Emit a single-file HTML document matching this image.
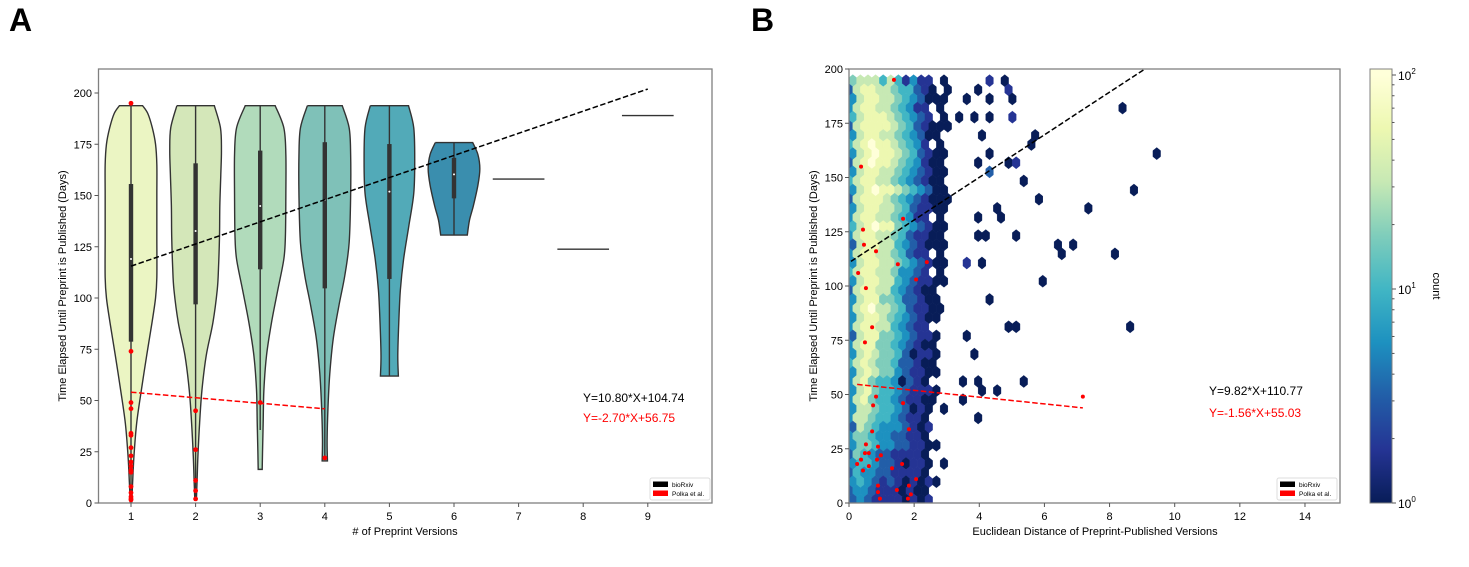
<!DOCTYPE html>
<html><head><meta charset="utf-8"><style>
html,body{margin:0;padding:0;background:#fff;}
svg{display:block;font-family:"Liberation Sans",Arial,sans-serif;}
</style></head><body>
<svg id="fig" width="1469" height="567" viewBox="0 0 1469 567" xmlns="http://www.w3.org/2000/svg">
<defs>
<clipPath id="clipR"><rect x="849" y="69" width="491" height="434"/></clipPath>
<linearGradient id="cbGrad" x1="0" y1="1" x2="0" y2="0">
<stop offset="0" stop-color="#081d58"/><stop offset="0.123" stop-color="#253494"/><stop offset="0.246" stop-color="#225ea8"/><stop offset="0.37" stop-color="#1d91c0"/><stop offset="0.493" stop-color="#41b6c4"/><stop offset="0.616" stop-color="#7fcdbb"/><stop offset="0.74" stop-color="#c7e9b4"/><stop offset="0.863" stop-color="#edf8b1"/><stop offset="0.986" stop-color="#ffffd9"/><stop offset="1" stop-color="#ffffd9"/>
</linearGradient>
</defs>
<text x="9" y="31" font-size="32" font-weight="bold">A</text>
<text x="751" y="31" font-size="32" font-weight="bold">B</text>
<g id="left"></g>
<g id="right"></g>
<g id="cbar"></g>
</svg>
<script>
// ---------- Panel A data ----------
const violinCats=[1,2,3,4,5,6];
const violinY=[
 [193.8,190,183,175,165,150,130,110,100,88,72,55,39,23,10,0.6],
 [193.8,183,172,160,145,130,115,104,88,72,55,39,23,10,1.5],
 [193.8,183,170,150,130,119,104,88,72,55,39,25,16.4],
 [193.8,183,170,150,127,111,96,80,63,47,31,20.5],
 [193.8,183,167,151,135,119,104,88,72,61.9],
 [175.8,170,163,155,145,138,130.7]];
const violinHW=[
 [0.18,0.26,0.33,0.38,0.40,0.40,0.40,0.40,0.38,0.325,0.243,0.16,0.088,0.046,0.025,0.012],
 [0.29,0.385,0.40,0.39,0.375,0.37,0.355,0.335,0.268,0.165,0.098,0.062,0.036,0.022,0.012],
 [0.232,0.366,0.397,0.397,0.39,0.366,0.273,0.175,0.098,0.057,0.046,0.036,0.031],
 [0.27,0.377,0.40,0.40,0.377,0.31,0.217,0.13,0.077,0.05,0.036,0.041],
 [0.296,0.377,0.392,0.377,0.30,0.22,0.17,0.145,0.13,0.139],
 [0.29,0.37,0.40,0.37,0.30,0.24,0.206]];
const violinColors=["#ebf5c3","#d4e7b9","#b1dbbb","#7fc1b8","#52aab8","#3a8eae"];
const boxQ1=[78.7,96.9,114,104.7,109.3,148.6];
const boxQ3=[155.6,165.7,171.9,176,175.1,168.4];
const boxMedian=[119,132.7,144.9,147.8,151.9,160.3];
const whiskLo=[0.6,1.5,35.6,21.9,61.9,130.7];
const whiskHi=[193.8,193.8,193.8,193.8,193.8,175.8];
const singleCats=[7,8,9];
const singleVals=[158,123.8,189];
const polkaCatsL=[1,1,1,1,1,1,1,1,1,1,1,1,1,1,1,1,1,2,2,2,2,2,3,4];
const polkaValsL=[195,74,49,46,34,33,27,23,20,18,16,15,8,5,3,2,1.5,45,26,11,6,2,49,22];
const fitL={black:[10.80,104.74,1,9],red:[-2.70,56.75,1,4]};
const xTicksL=[1,2,3,4,5,6,7,8,9];
const yTicksL=[0,25,50,75,100,125,150,175,200];
// ---------- Panel B data ----------
const hexRows=[
"67775752422.1.","378877655321.1","4788776543111.","47887765422.1.","57888765432.1.",
"37888876532111","478877654311..","57898876542.1.","4789887653211.","3789887654211.",
"4788776543211.","5788776543211.","4789887654311.","37888765432111","4788776532211.",
"47887765422.1.","5789886543211.","4788776532211.","3788775432111.","47887765322.1.",
"4788776543211.","57887764432.1.","4788775432211.","378877543211..","478866533211..",
"4789776532211.","478876543211..","47887754322...","378866543221..","478866543211..",
"478766531221..","578766533211..","478766432211..","47865541321...","478655432221..",
"478655432211..","47765543121.1.","47765543221...","37654443212...","46654433221...",
"466544332211..","36543322221...","45543321221.1.","35443322221...","454323212121..",
"34432221211...","34322221212..."];
const outX=[3.90,4.24,4.70,4.82,3.56,4.24,4.94,3.32,3.78,4.24,4.94,4.02,5.65,5.53,8.29,9.36,4.27,3.90,4.82,5.07,4.24,5.28,5.77,8.66,7.28,4.48,4.61,3.90,3.90,4.14,5.07,6.32,6.79,6.45,8.07,4.02,3.56,5.86,4.24,4.82,5.07,8.54,3.56,3.78,5.28,4.48,4.02,3.90,3.44,3.44,3.90];
const outY=[190,194,194,190,186,186,186,177,177,177,177,169,169,165,182,160,160,156,156,156,152,148,139,143,135,135,131,131,123,123,123,118,118,114,114,110,110,101,93,81,81,81,76,68,55,51,51,55,55,47,39];
const outLvl=[1,2,1,2,1,1,1,1,1,1,2,1,1,1,1,1,1,1,1,2,3,1,1,1,1,1,1,1,1,1,1,1,1,1,1,1,2,1,1,1,1,1,1,1,1,1,1,1,1,1,1];
const polkaXR=[1.38,0.37,1.66,0.43,0.46,0.83,1.50,2.39,0.28,2.06,0.52,0.71,0.49,0.83,0.74,1.66,7.18,0.71,1.84,0.52,0.89,0.49,0.61,0.98,0.37,0.25,0.86,0.61,0.43,1.32,1.63,2.06,0.89,1.84,0.89,1.90,1.47,0.95,1.81];
const polkaYR=[195,155,131,126,119,116,110,111,106,103,99,81,74,49,45,46,49,33,34,27,26,23,23,22,20,18,20,17,15,16,18,11,8,8,5,4,6,2,2];
const fitR={black:[9.82,110.77,0.06,9.09],red:[-1.56,55.03,0.25,7.18]};
const xTicksR=[0,2,4,6,8,10,12,14];
const yTicksR=[0,25,50,75,100,125,150,175,200];
const levelColors=["#081d58","#253494","#225ea8","#1d91c0","#41b6c4","#7fcdbb","#c7e9b4","#edf8b1","#ffffd9"];

const NS="http://www.w3.org/2000/svg";
function mk(tag,attrs,parent,text){const e=document.createElementNS(NS,tag);for(const k in attrs)e.setAttribute(k,attrs[k]);if(text!==undefined)e.textContent=text;parent.appendChild(e);return e;}
const xL=v=>131+(v-1)*64.6, yL=v=>503-v*2.05;
const xR=v=>849+v*32.57, yR=v=>503-v*2.17;

function catmull(pts){let d="";for(let i=0;i<pts.length-1;i++){const p0=pts[Math.max(0,i-1)],p1=pts[i],p2=pts[i+1],p3=pts[Math.min(pts.length-1,i+2)];
const c1=[p1[0]+(p2[0]-p0[0])/6,p1[1]+(p2[1]-p0[1])/6],c2=[p2[0]-(p3[0]-p1[0])/6,p2[1]-(p3[1]-p1[1])/6];
d+=` C${c1[0].toFixed(2)},${c1[1].toFixed(2)} ${c2[0].toFixed(2)},${c2[1].toFixed(2)} ${p2[0].toFixed(2)},${p2[1].toFixed(2)}`;}return d;}

// ---------- Panel A ----------
const L=document.getElementById('left');
violinCats.forEach((c,k)=>{
  const ys=violinY[k],hw=violinHW[k];
  const rp=ys.map((y,i)=>[xL(c+hw[i]),yL(y)]);
  const lp=ys.map((y,i)=>[xL(c-hw[i]),yL(y)]).reverse();
  const d=`M${lp[lp.length-1][0]},${lp[lp.length-1][1]} L${rp[0][0]},${rp[0][1]}`+catmull(rp)+` L${lp[0][0]},${lp[0][1]}`+catmull(lp)+" Z";
  const p=mk('path',{d:d,fill:violinColors[k],stroke:"#333",'stroke-width':1.4},L);
  
  
  const w=mk('line',{x1:xL(c),x2:xL(c),y1:yL(whiskHi[k]),y2:yL(whiskLo[k]),stroke:"#333",'stroke-width':1.4},L);
  
  
  const b=mk('rect',{x:xL(c)-2.2,width:4.4,y:yL(boxQ3[k]),height:yL(boxQ1[k])-yL(boxQ3[k]),fill:"#333"},L);
  
  
  const m=mk('circle',{cx:xL(c),cy:yL(boxMedian[k]),r:1,fill:"#fff"},L);
  
  
});
singleCats.forEach((c,k)=>{
  const l=mk('line',{x1:xL(c-0.4),x2:xL(c+0.4),y1:yL(singleVals[k]),y2:yL(singleVals[k]),stroke:"#333",'stroke-width':1.4},L);
  
  
});
polkaCatsL.forEach((c,i)=>{
  const p=mk('circle',{cx:xL(c),cy:yL(polkaValsL[i]),r:2.4,fill:"#ff0000"},L);
  
  
});
function fitLine(g,f,color,sx,sy,name){const[a,b,x0,x1]=f;const l=mk('line',{x1:sx(x0),y1:sy(a*x0+b),x2:sx(x1),y2:sy(a*x1+b),stroke:color,'stroke-width':1.5,'stroke-dasharray':'5.5,2.5'},g);
  
  }
fitLine(L,fitL.black,"#000",xL,yL,'biorxiv-fit-line');
fitLine(L,fitL.red,"#ff0000",xL,yL,'polka-fit-line');
function axes(g,x0,y0,x1,y1,prefix){const r=mk('rect',{x:x0,y:y0,width:x1-x0,height:y1-y0,fill:"none",stroke:"#808080",'stroke-width':1.3},g);
  
  }
axes(L,98.5,69,712,503,'left');
xTicksL.forEach(v=>{mk('line',{x1:xL(v),x2:xL(v),y1:503,y2:507,stroke:"#555"},L);
  const t=mk('text',{x:xL(v),y:520,'font-size':11,'text-anchor':'middle'},L,String(v));
  
  });
yTicksL.forEach(v=>{mk('line',{x1:94.5,x2:98.5,y1:yL(v),y2:yL(v),stroke:"#555"},L);
  const t=mk('text',{x:92,y:yL(v)+4,'font-size':11,'text-anchor':'end'},L,String(v));
  
  });
// ---------- Panel B ----------
const R=document.getElementById('right');
const hexG=mk('g',{'clip-path':'url(#clipR)'},R);
const dxD=0.2333, sxP=dxD*32.57, syP=2*4.2*2.17;
function hexPath(cx,cy){const a=sxP/2,b=syP/6,c=syP/3;return `M${cx+a},${cy-b} L${cx+a},${cy+b} L${cx},${cy+c} L${cx-a},${cy+b} L${cx-a},${cy-b} L${cx},${cy-c} Z`;}
function drawHex(j,i,lvl){const off=(j%2===0)?0.5:0;const xd=(i+off)*dxD,yd=1.4+j*4.2;const col=levelColors[lvl-1];
  const h=mk('path',{d:hexPath(xR(xd),yR(yd)),fill:col,stroke:col,'stroke-width':0.4},hexG);
  
  }
hexRows.forEach((row,ri)=>{const j=hexRows.length-1-ri;for(let i=0;i<row.length;i++){const ch=row[i];if(ch!=='.')drawHex(j,i,parseInt(ch));}});
outX.forEach((x,k)=>{const j=Math.round((outY[k]-1.4)/4.2);const off=(j%2===0)?0.5:0;const i=Math.round(x/dxD-off);drawHex(j,i,outLvl[k]);});
const pg=mk('g',{'clip-path':'url(#clipR)'},R);
polkaXR.forEach((x,i)=>{const p=mk('circle',{cx:xR(x),cy:yR(polkaYR[i]),r:2,fill:"#ff0000"},pg);
  
  });
fitLine(pg,fitR.black,"#000",xR,yR,'biorxiv-fit-line');
fitLine(pg,fitR.red,"#ff0000",xR,yR,'polka-fit-line');
axes(R,849,69,1340,503,'right');
xTicksR.forEach(v=>{mk('line',{x1:xR(v),x2:xR(v),y1:503,y2:507,stroke:"#555"},R);
  const t=mk('text',{x:xR(v),y:520,'font-size':11,'text-anchor':'middle'},R,String(v));
  
  });
yTicksR.forEach(v=>{mk('line',{x1:845,x2:849,y1:yR(v),y2:yR(v),stroke:"#555"},R);
  const t=mk('text',{x:843,y:yR(v)+4,'font-size':11,'text-anchor':'end'},R,String(v));
  
  });
// ---------- Colorbar ----------
const C=document.getElementById('cbar');
const cbTicks=[0,1,2];
const cbY=v=>503-v*214;
mk('rect',{x:1370,y:69,width:22,height:434,fill:"url(#cbGrad)",stroke:"#808080",'stroke-width':1},C);
for(let dec=0;dec<2;dec++)for(let m=2;m<=9;m++){const yy=cbY(dec+Math.log10(m));mk('line',{x1:1392,x2:1394.5,y1:yy,y2:yy,stroke:"#555"},C);}
cbTicks.forEach(v=>{const yy=cbY(v);mk('line',{x1:1392,x2:1396,y1:yy,y2:yy,stroke:"#555"},C);
  const t=mk('text',{x:1398,y:yy+5,'font-size':12},C);
  
  
  mk('tspan',{},t,'10');mk('tspan',{dy:-6,'font-size':8},t,String(v));});
</script>
<script>
const F=document.getElementById('fig');
function T(attrs,text,name){const e=document.createElementNS("http://www.w3.org/2000/svg",'text');for(const k in attrs)e.setAttribute(k,attrs[k]);e.textContent=text;
  
  
  F.appendChild(e);return e;}
T({x:405,y:535,'font-size':11,'text-anchor':'middle'},"# of Preprint Versions",'x-axis-title-left');
T({x:0,y:0,'font-size':11,'text-anchor':'middle',transform:'translate(66,286) rotate(-90)'},"Time Elapsed Until Preprint is Published (Days)",'y-axis-title-left');
T({x:1095,y:535,'font-size':11,'text-anchor':'middle'},"Euclidean Distance of Preprint-Published Versions",'x-axis-title-right');
T({x:0,y:0,'font-size':11,'text-anchor':'middle',transform:'translate(817,286) rotate(-90)'},"Time Elapsed Until Preprint is Published (Days)",'y-axis-title-right');
T({x:0,y:0,'font-size':11,'text-anchor':'middle',transform:'translate(1433,286) rotate(90)'},"count",'colorbar-title');
T({x:583,y:402,'font-size':12},"Y=10.80*X+104.74",'biorxiv-equation-left');
T({x:583,y:422,'font-size':12,fill:'#ff0000'},"Y=-2.70*X+56.75",'polka-equation-left');
T({x:1209,y:395,'font-size':12},"Y=9.82*X+110.77",'biorxiv-equation-right');
T({x:1209,y:417,'font-size':12,fill:'#ff0000'},"Y=-1.56*X+55.03",'polka-equation-right');
function legend(x,y,name){const g=document.createElementNS("http://www.w3.org/2000/svg",'g');
  
  
  F.appendChild(g);
  g.innerHTML=`<rect x="${x}" y="${y}" width="60" height="22" rx="2" fill="#fff" stroke="#ddd"/>
  <rect x="${x+3}" y="${y+3.5}" width="15" height="5.5" fill="#000"/><text x="${x+22}" y="${y+9}" font-size="6.5">bioRxiv</text>
  <rect x="${x+3}" y="${y+12.5}" width="15" height="5.5" fill="#ff0000"/><text x="${x+22}" y="${y+18}" font-size="6.5">Polka et al.</text>`;}
legend(650,478,'legend-left');
legend(1277,478,'legend-right');
</script>
</body></html>
